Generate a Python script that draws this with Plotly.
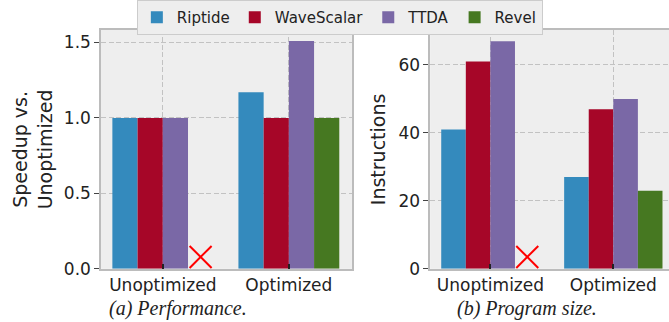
import plotly.graph_objects as go

categories = ["Unoptimized", "Optimized"]
series = ["Riptide", "WaveScalar", "TTDA", "Revel"]
colors = ["#348ABD", "#A60628", "#7A68A6", "#467821"]

speedup = {
    "Riptide": [1.0, 1.17],
    "WaveScalar": [1.0, 1.0],
    "TTDA": [1.0, 1.51],
    "Revel": [None, 1.0],
}
instructions = {
    "Riptide": [41, 27],
    "WaveScalar": [61, 47],
    "TTDA": [67, 50],
    "Revel": [None, 23],
}
# Revel does not support the unoptimized program (marked with a red X)
unsupported = {"Revel": ["Unoptimized"]}

speed_ticks = [0.0, 0.5, 1.0, 1.5]
speed_ticklabels = ["0.0", "0.5", "1.0", "1.5"]
instr_ticks = [0, 20, 40, 60]

SPEED_MAX = 1.583
INSTR_MAX = 70.3
MARK_FRAC = 0.05  # vertical placement of the "unsupported" cross, as fraction of axis height

fig = go.Figure()

for s, c in zip(series, colors):
    for data, xa, ya, show in [(speedup, "x", "y", True), (instructions, "x2", "y2", False)]:
        fig.add_trace(go.Bar(
            x=categories, y=data[s], name=s, marker=dict(color=c, line=dict(width=0)),
            xaxis=xa, yaxis=ya, showlegend=show, legendgroup=s, offsetgroup=s,
        ))

# red crosses for unsupported configurations, grouped like the bars
for s in series:
    for xa, ya, ymax in [("x", "y", SPEED_MAX), ("x2", "y2", INSTR_MAX)]:
        ys = [MARK_FRAC * ymax if cat in unsupported.get(s, []) else None for cat in categories]
        fig.add_trace(go.Scatter(
            x=categories, y=ys, mode="markers", xaxis=xa, yaxis=ya, showlegend=False,
            offsetgroup=s, cliponaxis=False, hoverinfo="skip",
            marker=dict(symbol="x-thin", size=22, color="red",
                        line=dict(color="red", width=2)),
        ))

font = "DejaVu Sans"
axis_common = dict(
    showline=True, mirror=True, linecolor="#bcbcbc", linewidth=1.5,
    showgrid=True, gridcolor="#c2c2c2", griddash="5px,2.5px", gridwidth=1,
    zeroline=False, automargin=False,
    tickfont=dict(family=font, size=17, color="#222"),
)

fig.update_layout(
    width=669, height=322,
    margin=dict(l=0, r=0, t=0, b=0),
    paper_bgcolor="white", plot_bgcolor="#eeeeee",
    barmode="group", bargap=0.2, bargroupgap=0,
    scattermode="group", scattergap=0.2,
    font=dict(family=font, color="#222"),
    xaxis=dict(domain=[0.151, 0.526], anchor="y", range=[-0.49, 1.5],
               ticks="inside", ticklen=5, tickcolor="#222", tickwidth=2, **axis_common),
    yaxis=dict(domain=[0.165, 0.907], anchor="x", range=[0, SPEED_MAX],
               tickvals=speed_ticks, ticktext=speed_ticklabels,
               ticks="outside", ticklen=5, tickcolor="#444", tickwidth=1,
               title=dict(text="Speedup vs.<br>Unoptimized", font=dict(size=19, family=font), standoff=6),
               **axis_common),
    xaxis2=dict(domain=[0.643, 1.0], anchor="y2", range=[-0.49, 1.453],
                ticks="inside", ticklen=5, tickcolor="#222", tickwidth=2, **axis_common),
    yaxis2=dict(domain=[0.165, 0.907], anchor="x2", range=[0, INSTR_MAX],
                tickvals=instr_ticks,
                ticks="outside", ticklen=5, tickcolor="#444", tickwidth=1,
                title=dict(text="Instructions", font=dict(size=19, family=font), standoff=8),
                **axis_common),
    legend=dict(orientation="h", x=0.508, xanchor="center", y=1.0, yanchor="top",
                bgcolor="#eeeeee", bordercolor="#cccccc", borderwidth=1,
                font=dict(family=font, size=15, color="#222"),
                tracegroupgap=0),
    annotations=[
        dict(text="<i>(a) Performance.</i>", x=178 / 669, y=0.0, xref="paper", yref="paper",
             xanchor="center", yanchor="bottom", showarrow=False, yshift=0,
             font=dict(family="Liberation Serif", size=20, color="#222")),
        dict(text="<i>(b) Program size.</i>", x=527 / 669, y=0.0, xref="paper", yref="paper",
             xanchor="center", yanchor="bottom", showarrow=False, yshift=0,
             font=dict(family="Liberation Serif", size=20, color="#222")),
    ],
)

fig.write_html("out.html", config={"displayModeBar": False},
               post_script="document.body.style.margin='0';")
